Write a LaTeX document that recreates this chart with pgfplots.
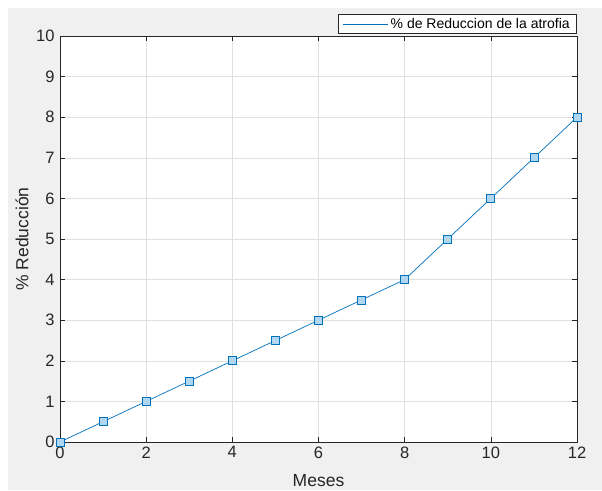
\documentclass[border=0pt]{standalone}
\usepackage{fontspec}
\setmainfont{Liberation Sans}
\usepackage{pgfplots}
\pgfplotsset{compat=1.18}
\definecolor{mblue}{RGB}{0,114,189}
\definecolor{mfill}{RGB}{176,214,240}
\definecolor{bgray}{RGB}{240,240,240}
\definecolor{agray}{RGB}{38,38,38}
\begin{document}
\begin{tikzpicture}[x=1pt,y=1pt]
\fill[white] (-60,-48) rectangle (542,442);
\fill[bgray] (-52,-48) rectangle (542,434);
\begin{axis}[
  at={(0,0)}, anchor=south west,
  scale only axis, width=517pt, height=406pt,
  xmin=0, xmax=12, ymin=0, ymax=10,
  xtick={0,2,...,12}, ytick={0,1,...,10},
  axis background/.style={fill=white},
  grid=major,
  major grid style={color=black!12, line width=0.5pt},
  axis line style={color=agray, line width=0.6pt},
  tick style={color=agray, line width=0.6pt},
  major tick length=5pt,
  tick align=inside,
  xtick pos=both, ytick pos=both,
  /pgf/number format/assume math mode=true,
  ticklabel style={font=\fontsize{16.5}{18}\selectfont, text=agray},
  xticklabel style={yshift=-1pt},
  yticklabel style={xshift=-2pt},
  xlabel={Meses}, ylabel={\% Reducción},
  label style={font=\fontsize{17.5}{19}\selectfont, text=agray},
  xlabel style={at={(axis description cs:0.5,0)}, anchor=center, yshift=-39pt},
  every axis y label/.append style={at={(axis description cs:0,0.5)}, anchor=center, rotate=0, yshift=38pt},
  legend style={at={(1,1)}, anchor=south east, yshift=2pt,
    draw=agray, fill=white, font=\fontsize{14}{16}\selectfont,
    inner xsep=5pt, inner ysep=2pt, line width=0.6pt},
  legend cell align=left,
  legend image code/.code={\draw[draw=mblue, line width=0.7pt] (0pt,0pt) -- (45pt,0pt);},
]
\addplot[color=mblue, line width=0.7pt, mark=square*, mark size=4pt,
  mark options={fill=mfill, draw=mblue, line width=0.8pt}]
  coordinates {(0,0) (1,0.5) (2,1) (3,1.5) (4,2) (5,2.5) (6,3) (7,3.5) (8,4) (9,5) (10,6) (11,7) (12,8)};
\addlegendentry{\% de Reduccion de la atrofia}
\end{axis}
\end{tikzpicture}
\end{document}
